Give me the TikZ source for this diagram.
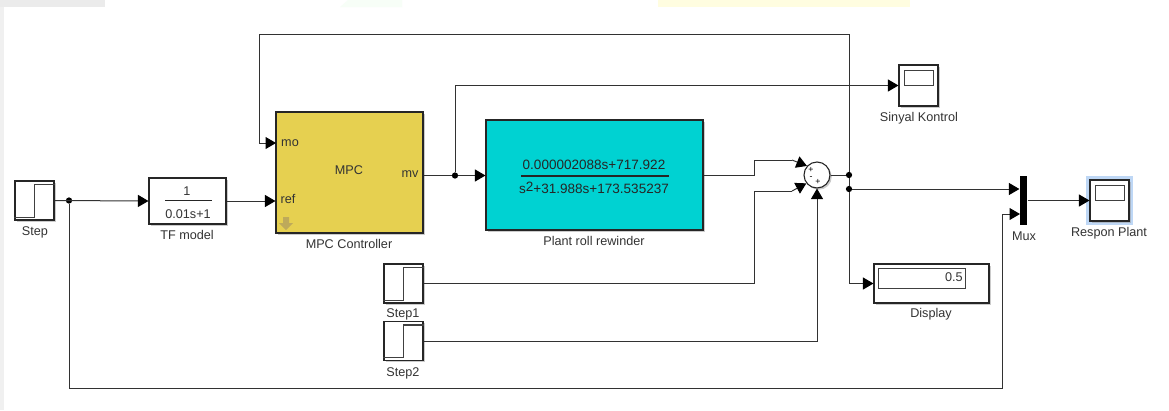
\documentclass[tikz,border=0pt]{standalone}
\usepackage{fontspec}
\setmainfont{Liberation Sans}
\usetikzlibrary{arrows.meta,calc,shadows}
\definecolor{mpcyellow}{RGB}{230,208,80}
\definecolor{plantcyan}{RGB}{0,210,210}
\definecolor{scopehalo}{RGB}{190,215,245}
\definecolor{wiregray}{RGB}{50,50,50}
\definecolor{portarrow}{RGB}{190,170,90}
\newcommand{\sizelabel}{\fontsize{7.2pt}{8pt}\selectfont}
\newcommand{\sizeplant}{\fontsize{7.7pt}{9pt}\selectfont}
\tikzset{block/.style={rectangle,draw=black!85,line width=.22mm,fill=white,inner sep=0pt,
    drop shadow={shadow xshift=.35mm,shadow yshift=-.35mm,fill=black!40}},
  tag/.style={font=\sizelabel,text=black!80,inner sep=0pt},
  plantterm/.style={font=\sizeplant,text=black!85,inner sep=0pt},
  signtag/.style={font=\fontsize{5pt}{6pt}\selectfont,text=black,inner sep=0pt},
  wire/.style={draw=wiregray,line width=.2mm},
  arrow/.style={wire,-{Triangle[length=2.1mm,width=2.4mm,color=black]}},
  dot/.style={circle,fill=black,minimum size=1.25mm,inner sep=0pt}}

\begin{document}
\begin{tikzpicture}[x=.2mm,y=-.2mm]
  \path[use as bounding box,fill=white] (0,0) rectangle (1169,410);
  \fill[black!6] (0,0) rectangle (4,410);
  \fill[black!8] (0,0) rectangle (105,7);
  \fill[black!12!green!3] (340,7) -- (348,0) -- (402,0) -- (402,7) -- cycle;
  \fill[yellow!12] (658,0) rectangle (910,7);

  \node[block,minimum width=7.8mm,minimum height=7.8mm] (step) at (34.5,200.5) {};
  \node[block,minimum width=15.4mm,minimum height=9.2mm] (tfmodel) at (187.5,201) {};
  \node[block,fill=mpcyellow,minimum width=29.4mm,minimum height=24.2mm] (mpc) at (349.5,172.5) {};
  \node[block,fill=plantcyan,minimum width=43.4mm,minimum height=22mm] (plant) at (594.5,175) {};
  \node[block,minimum width=7.8mm,minimum height=7.8mm] (stepb) at (403.5,283.5) {};
  \node[block,minimum width=7.8mm,minimum height=7.8mm] (stepc) at (403.5,341) {};
  \node[block,circle,minimum size=5.2mm] (sum) at (817,175) {};
  \node[rectangle,fill=black,minimum width=1.5mm,minimum height=9.8mm,inner sep=0pt] (mux) at (1023.5,200.5) {};
  \node[rectangle,fill=scopehalo,minimum width=9.4mm,minimum height=9.8mm,inner sep=0pt] (halo) at (1109.5,200.5) {};
  \node[block,minimum width=7.8mm,minimum height=8.2mm] (respon) at (1109.5,200.5) {};
  \node[block,minimum width=7.8mm,minimum height=8.2mm] (sinyal) at (918.5,85.5) {};
  \node[block,minimum width=23mm,minimum height=7.8mm] (display) at (931.5,283.5) {};

  \foreach \stepname in {step,stepb,stepc}
    \draw[draw=black!75,line width=.22mm] ($(\stepname.south west)+(0,-3.5)$) -| ($(\stepname.north)+(0,4)$) -- ($(\stepname.north east)+(0,4)$);
  \foreach \scopename in {respon,sinyal}
    \draw[draw=black!75,line width=.22mm] ($(\scopename.north west)+(6,6)$) rectangle ($(\scopename.north east)+(-5,21)$);
  \draw[draw=black!75,line width=.2mm] (878,268) rectangle (965,288);
  \fill[portarrow] (283,217) -- (289,217) -- (289,223) -- (293,223) -- (286,230) -- (279,223) -- (283,223) -- cycle;

  \node[tag] (steplab) at (35,232) {Step};
  \node[tag] (tfmodellab) at (187,235) {TF model};
  \node[tag] (mpclab) at (349,244) {MPC Controller};
  \node[tag] (plantlab) at (594,241) {Plant roll rewinder};
  \node[tag] (stepblab) at (403,314) {Step1};
  \node[tag] (stepclab) at (403,373) {Step2};
  \node[tag] (muxlab) at (1024,236) {Mux};
  \node[tag] (responlab) at (1109,233) {Respon Plant};
  \node[tag] (displaylab) at (931,314) {Display};
  \node[tag] (sinyallab) at (919,118) {Sinyal Kontrol};

  \node[tag] (tfnum) at (187,191) {1};
  \node[tag] (tfden) at (188,214) {0.01s+1};
  \draw[draw=black!85,line width=.22mm] (165,200.5) -- (212,200.5);
  \node[tag] (mpctext) at (349,170) {MPC};
  \node[tag] (mopin) at (290,143) {mo};
  \node[tag] (refpin) at (288,199) {ref};
  \node[tag] (mvpin) at (410,174) {mv};
  \node[plantterm] (plantnum) at (594,165) {0.000002088s+717.922};
  \node[plantterm] (plantden) at (594,188) {s\raisebox{.5mm}{2}+31.988s+173.535237};
  \draw[draw=black!85,line width=.22mm] (521,176) -- (669,176);
  \node[signtag] (sumplus) at (811,169.5) {+};
  \node[signtag] (summinus) at (811,178) {-};
  \node[signtag] (sumplusb) at (818,182) {+};
  \node[tag,anchor=east] (dispval) at (963,277) {0.5};

  \node[dot] (stepdot) at (69,200.5) {};
  \node[dot] (mvdot) at (455,175.5) {};
  \node[dot] (sumdot) at (849,175) {};
  \node[dot] (muxdot) at (849,189) {};
  \coordinate (mopt) at (276,143);
  \coordinate (topl) at (259,34);
  \coordinate (topr) at (849,34);
  \coordinate (lowl) at (69,388);
  \coordinate (lowr) at (1002,388);
  \coordinate (muxb) at (1020,214);
  \coordinate (sumau) at (754,160);
  \coordinate (sumav) at (792,160);
  \coordinate (sumbu) at (754,191);
  \coordinate (sumbv) at (792,191);

  \draw[arrow] (step.east) -- (tfmodel.west);
  \draw[arrow] (tfmodel.east) -- (tfmodel.east -| mpc.west);
  \draw[arrow] (mvdot) -- (mvdot -| plant.west);
  \draw[wire] (mpc.east |- mvdot) -- (mvdot);
  \draw[arrow] (mvdot) |- (sinyal.west);
  \draw[arrow] (topr) -- (topl) |- (mopt);
  \draw[wire] (sumdot) -- (topr);
  \draw[arrow] (stepdot) |- (lowl) -- (lowr) |- (muxb);
  \draw[wire] (plant.east |- sumdot) -| (sumau) -- (sumav);
  \draw[arrow] (sumav) -- (sum.138);
  \draw[wire] (stepb.east) -| (sumbu) -- (sumbv);
  \draw[arrow] (sumbv) -- (sum.218);
  \draw[arrow] (stepc.east) -| (sum.south);
  \draw[wire] (sum.east) -- (sumdot);
  \draw[wire] (sumdot) -- (muxdot);
  \draw[arrow] (muxdot) -- (muxdot -| mux.west);
  \draw[arrow] (muxdot) |- (display.west);
  \draw[arrow] (mux.east) -- (respon.west);
\end{tikzpicture}
\end{document}
